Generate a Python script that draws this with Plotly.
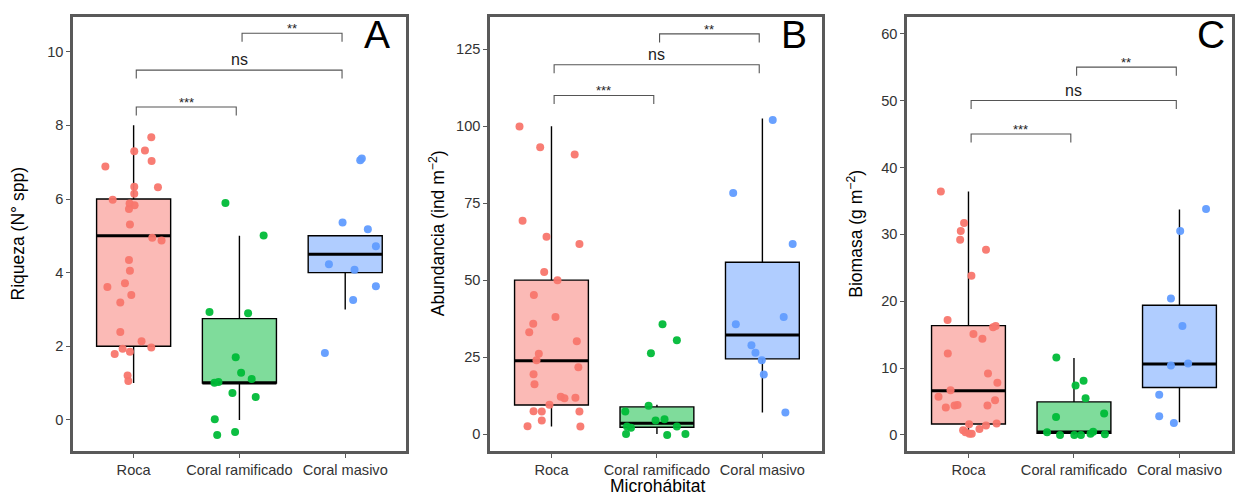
import plotly.graph_objects as go

# ---------------- data ----------------
categories = ["Roca", "Coral ramificado", "Coral masivo"]
colors = ["#F8766D", "#00BA38", "#619CFF"]
fills = ["rgba(248,118,109,0.5)", "rgba(0,186,56,0.5)", "rgba(97,156,255,0.5)"]

# Panel A - Riqueza
A_lower = [1, 0, 3]
A_q1 = [2, 1, 4]
A_median = [5, 1, 4.5]
A_q3 = [6, 2.75, 5]
A_upper = [8, 5, 5]
A_roca_dx = [0.167, 0.006, 0.107, 0.17, -0.267, 0.006, 0.006, 0.23, -0.198, -0.038, 0.009, -0.044, -0.035, 0.176,
             0.264, -0.044, -0.035, -0.248, -0.082, -0.022, -0.126, -0.126, 0.075, 0.167, -0.104, -0.035, -0.179,
             -0.057, -0.05]
A_roca_y = [7.68, 7.30, 7.32, 7.03, 6.88, 6.33, 6.14, 6.32, 5.98, 5.88, 5.83, 5.73, 5.31, 4.95, 4.87, 4.34, 4.05,
            3.61, 3.71, 3.39, 3.19, 2.39, 2.14, 1.97, 1.93, 1.85, 1.79, 1.21, 1.06]
A_ram_dx = [-0.132, 0.229, -0.283, 0.082, -0.035, 0.016, 0.116, -0.236, -0.198, -0.066, 0.154, -0.233, -0.21, -0.041]
A_ram_y = [5.89, 5.01, 2.93, 2.90, 1.70, 1.28, 1.11, 1.01, 1.03, 0.73, 0.62, 0.02, -0.41, -0.33]
A_mas_dx = [0.142, 0.157, -0.025, 0.214, 0.29, -0.154, 0.088, 0.29, 0.075, -0.192]
A_mas_y = [7.05, 7.10, 5.36, 5.18, 4.72, 4.23, 4.08, 3.63, 3.26, 1.82]
A_sig_y = [8.5, 9.5, 10.5]

# Panel B - Abundancia
B_lower = [2.4, 0, 7]
B_q1 = [9.4, 2.2, 24.4]
B_median = [23.8, 3.5, 32.2]
B_q3 = [50, 8.8, 55.8]
B_upper = [100, 9.5, 102.5]
B_roca_dx = [-0.303, -0.107, 0.22, -0.274, -0.047, 0.265, -0.069, 0.057, -0.167, 0.038, -0.173, -0.211, 0.24, -0.12,
             -0.142, 0.255, -0.17, -0.161, 0.088, 0.123, 0.227, -0.019, -0.17, -0.092, 0.265, -0.092, -0.227, 0.274]
B_roca_y = [99.9, 93.2, 90.8, 69.3, 64.1, 61.7, 52.6, 50.0, 45.2, 38.0, 35.8, 33.1, 30.1, 26.1, 24.0, 21.7, 19.4,
            16.2, 12.1, 11.6, 11.8, 9.5, 7.4, 7.3, 7.3, 4.4, 2.5, 2.4]
B_ram_dx = [0.053, 0.189, -0.057, -0.079, -0.30, 0.072, -0.013, -0.284, -0.246, 0.189, -0.293, 0.097, 0.27]
B_ram_y = [35.7, 30.5, 26.2, 9.2, 7.3, 4.8, 4.4, 2.4, 2.0, 2.4, 0.0, -0.3, 0.0]
B_mas_dx = [0.098, -0.277, 0.287, -0.252, 0.202, -0.104, -0.066, -0.006, 0.013, 0.218]
B_mas_y = [102.0, 78.3, 61.7, 35.7, 38.0, 28.8, 26.4, 24.0, 19.3, 7.0]
B_sig_y = [110, 120, 130]

# Panel C - Biomasa
C_lower = [0, 0, 1.9]
C_q1 = [1.65, 0.25, 7.1]
C_median = [6.6, 0.45, 10.6]
C_q3 = [16.35, 4.95, 19.4]
C_upper = [36.4, 11.5, 33.7]
C_roca_dx = [-0.262, -0.042, -0.073, -0.079, 0.166, 0.028, -0.198, 0.233, 0.258, 0.047, 0.132, -0.196, 0.185, 0.274,
             -0.17, -0.284, 0.252, -0.215, -0.132, -0.104, 0.18, 0.006, 0.267, 0.166, 0.104, -0.051, -0.028, 0.031,
             0.009]
C_roca_y = [36.4, 31.7, 30.5, 29.2, 27.7, 23.8, 17.2, 16.1, 16.3, 15.1, 14.4, 12.2, 9.2, 7.8, 6.7, 5.7, 5.2, 4.1,
            4.4, 4.5, 4.4, 1.6, 1.7, 1.4, 0.9, 0.7, 0.4, 0.2, 0.2]
C_ram_dx = [-0.167, 0.091, 0.015, 0.11, 0.286, -0.17, -0.255, -0.132, 0.003, 0.066, 0.157, 0.182, 0.293]
C_ram_y = [11.6, 8.1, 7.4, 5.5, 3.2, 2.7, 0.4, 0.0, 0.0, 0.0, 0.2, 0.5, 0.1]
C_mas_dx = [0.252, 0.007, -0.081, 0.028, -0.081, 0.082, -0.192, -0.192, -0.053]
C_mas_y = [33.8, 30.5, 20.4, 16.3, 10.4, 10.7, 6.0, 2.8, 1.8]
C_sig_y = [45, 50, 55]

sig_pairs = [(1, 2), (1, 3), (2, 3)]
sig_labels = ["***", "ns", "**"]

y_titles = ["Riqueza (N° spp)", "Abundancia (ind m<sup>−2</sup>)", "Biomasa (g m<sup>−2</sup>)"]
panel_letters = ["A", "B", "C"]
yticks = [[0, 2, 4, 6, 8, 10], [0, 25, 50, 75, 100, 125], [0, 10, 20, 30, 40, 50, 60]]

# ---------------- layout geometry ----------------
W, H = 1235, 496
FONT = "Liberation Sans, Arial, sans-serif"
x_dom_px = [(73.5, 406.5), (491.5, 824.2), (909.5, 1235)]
y_dom_px = (16.5, 450.5)
x_ranges = [[0.43, 3.57], [0.42, 3.567], [0.42, 3.498]]
y_ranges = [[-0.83, 10.956], [-5.36, 135.66], [-2.32, 62.57]]
ytitle_x_px = [19, 438.7, 857.3]
letter_pos_px = [(377.5, 34), (796, 34), (1214, 34)]
BOXW = 0.7

panels = [
    dict(lower=A_lower, q1=A_q1, med=A_median, q3=A_q3, up=A_upper,
         pts=[(A_roca_dx, A_roca_y), (A_ram_dx, A_ram_y), (A_mas_dx, A_mas_y)], sig=A_sig_y),
    dict(lower=B_lower, q1=B_q1, med=B_median, q3=B_q3, up=B_upper,
         pts=[(B_roca_dx, B_roca_y), (B_ram_dx, B_ram_y), (B_mas_dx, B_mas_y)], sig=B_sig_y),
    dict(lower=C_lower, q1=C_q1, med=C_median, q3=C_q3, up=C_upper,
         pts=[(C_roca_dx, C_roca_y), (C_ram_dx, C_ram_y), (C_mas_dx, C_mas_y)], sig=C_sig_y),
]

fig = go.Figure()
annotations = []
layout_axes = {}

for p, pan in enumerate(panels):
    sfx = "" if p == 0 else str(p + 1)
    xa, ya = "x" + sfx, "y" + sfx
    # boxes
    for i in range(3):
        pos = i + 1
        fig.add_trace(go.Box(
            x=[pos], q1=[pan["q1"][i]], median=[pan["med"][i]], q3=[pan["q3"][i]],
            lowerfence=[pan["lower"][i]], upperfence=[pan["up"][i]],
            width=BOXW, whiskerwidth=0, boxpoints=False,
            fillcolor=fills[i], line=dict(color="black", width=1.4),
            xaxis=xa, yaxis=ya, showlegend=False, hoverinfo="skip"))
        # thick median line
        fig.add_trace(go.Scatter(
            x=[pos - BOXW / 2, pos + BOXW / 2], y=[pan["med"][i]] * 2, mode="lines",
            line=dict(color="black", width=3), xaxis=xa, yaxis=ya, showlegend=False, hoverinfo="skip"))
    # jittered points
    for i in range(3):
        dx, yv = pan["pts"][i]
        fig.add_trace(go.Scatter(
            x=[i + 1 + d for d in dx], y=yv, mode="markers",
            marker=dict(color=colors[i], size=8, opacity=0.95, line=dict(width=0)),
            xaxis=xa, yaxis=ya, showlegend=False, hoverinfo="skip"))
    # significance brackets
    yr = y_ranges[p]
    ppu = (y_dom_px[1] - y_dom_px[0]) / (yr[1] - yr[0])
    tip = 8.5 / ppu
    for (a, b), lab, yy in zip(sig_pairs, sig_labels, pan["sig"]):
        x0, x1 = a + 0.025, b - 0.03
        fig.add_trace(go.Scatter(
            x=[x0, x0, x1, x1], y=[yy - tip, yy, yy, yy - tip], mode="lines",
            line=dict(color="#555555", width=1.1), xaxis=xa, yaxis=ya,
            showlegend=False, hoverinfo="skip"))
        is_ns = lab == "ns"
        annotations.append(dict(
            x=(x0 + x1) / 2, y=yy, xref=xa, yref=ya, text=lab, showarrow=False,
            xanchor="center", yanchor="bottom", yshift=0 if is_ns else -5,
            font=dict(family=FONT, size=16 if is_ns else 13, color="#222222")))

    dom_x = [x_dom_px[p][0] / W, min(1.0, x_dom_px[p][1] / W)]
    dom_y = [1 - y_dom_px[1] / H, 1 - y_dom_px[0] / H]
    axis_common = dict(showline=True, mirror=True, linewidth=3, linecolor="#595959",
                       ticks="outside", ticklen=4, tickwidth=1, tickcolor="#595959",
                       showgrid=False, zeroline=False,
                       tickfont=dict(family=FONT, size=14.6, color="#333333"))
    layout_axes["xaxis" + sfx] = dict(domain=dom_x, range=x_ranges[p], anchor=ya,
                                      tickvals=[1, 2, 3], ticktext=categories, **axis_common)
    layout_axes["yaxis" + sfx] = dict(domain=dom_y, range=yr, anchor=xa,
                                      tickvals=yticks[p], **axis_common)
    # y title
    annotations.append(dict(
        x=ytitle_x_px[p] / W, y=1 - ((y_dom_px[0] + y_dom_px[1]) / 2) / H, xref="paper", yref="paper",
        text=y_titles[p], textangle=-90, showarrow=False, xanchor="center", yanchor="middle",
        font=dict(family=FONT, size=17.5, color="black")))
    # panel letter
    lx, ly = letter_pos_px[p]
    annotations.append(dict(
        x=lx / W, y=1 - ly / H, xref="paper", yref="paper", text=panel_letters[p], showarrow=False,
        xanchor="center", yanchor="middle", font=dict(family=FONT, size=39, color="black")))

# x title (only middle panel)
annotations.append(dict(
    x=658.7 / W, y=0, xref="paper", yref="paper", text="Microhábitat", showarrow=False,
    xanchor="center", yanchor="bottom", borderpad=0, yshift=-1,
    font=dict(family=FONT, size=17.5, color="black")))

fig.update_layout(
    width=W, height=H, margin=dict(l=0, r=0, t=0, b=0),
    paper_bgcolor="white", plot_bgcolor="white", boxmode="overlay",
    annotations=annotations, showlegend=False, **layout_axes)

fig.write_html("out.html")
